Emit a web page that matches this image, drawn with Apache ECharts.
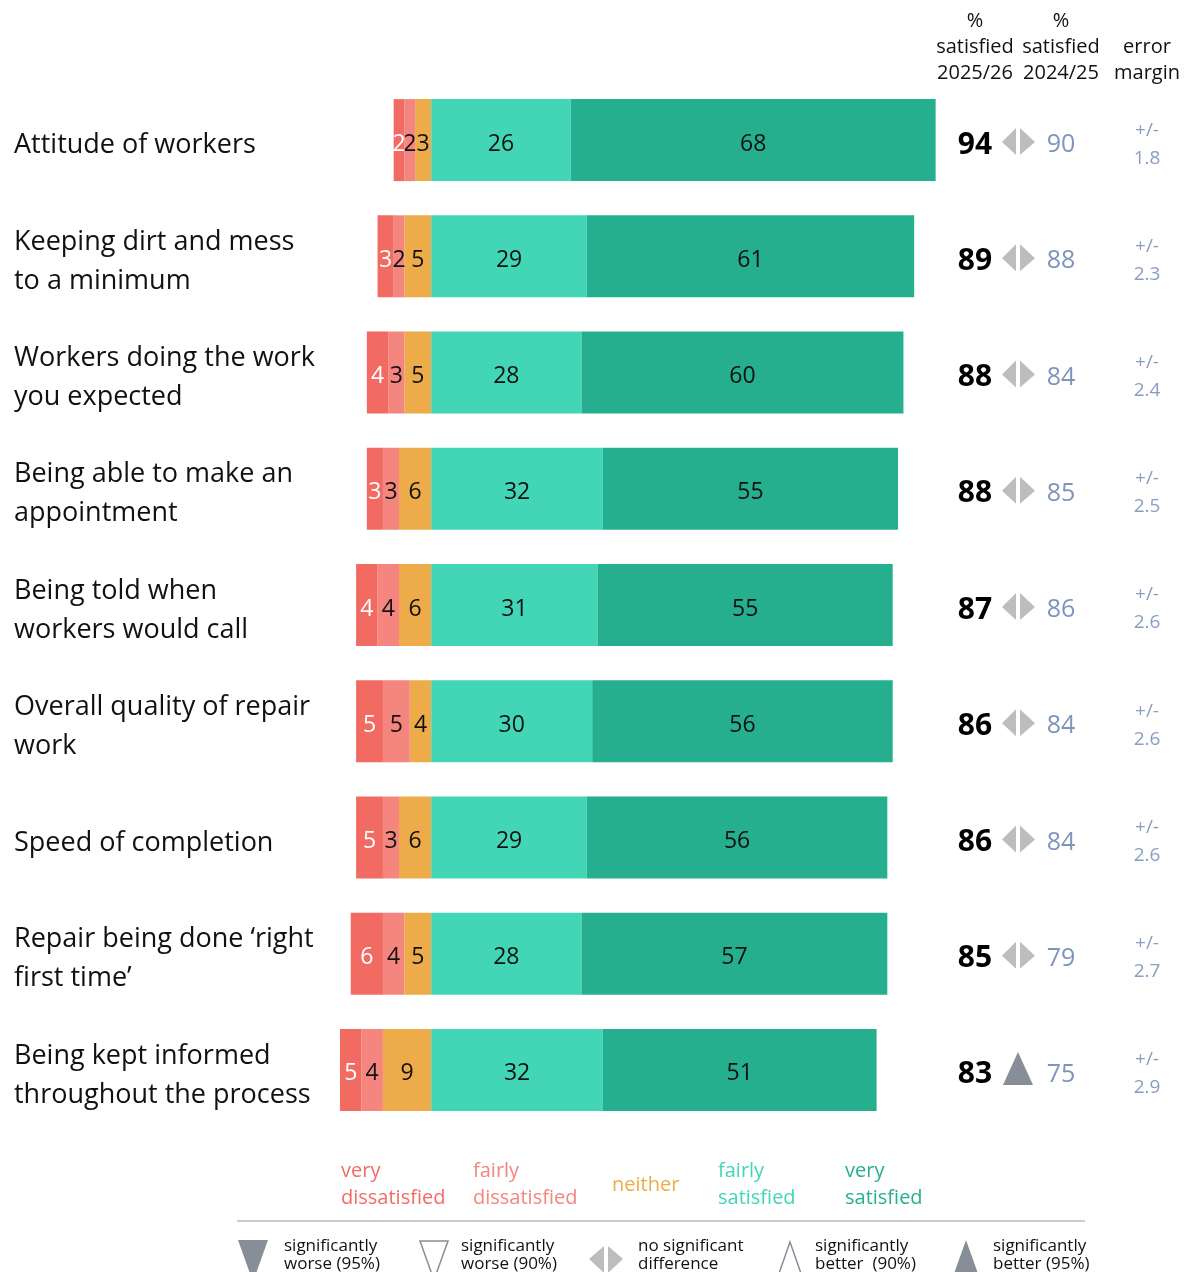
<!DOCTYPE html>
<html>
<head>
<meta charset="utf-8">
<script src="https://cdn.jsdelivr.net/npm/echarts@6/dist/echarts.min.js"></script>
<style>
html,body{margin:0;padding:0;background:#fff;}
#chart{width:1188px;height:1272px;}
</style>
</head>
<body>
<div id="chart"></div>
<script>
const categories = [
  'Attitude of workers',
  'Keeping dirt and mess\nto a minimum',
  'Workers doing the work\nyou expected',
  'Being able to make an\nappointment',
  'Being told when\nworkers would call',
  'Overall quality of repair\nwork',
  'Speed of completion',
  'Repair being done \u2018right\nfirst time\u2019',
  'Being kept informed\nthroughout the process'
];
const veryDissatisfied   = [2, 3, 4, 3, 4, 5, 5, 6, 5];
const fairlyDissatisfied = [2, 2, 3, 3, 4, 5, 3, 4, 4];
const neither            = [3, 5, 5, 6, 6, 4, 6, 5, 9];
const fairlySatisfied    = [26, 29, 28, 32, 31, 30, 29, 28, 32];
const verySatisfied      = [68, 61, 60, 55, 55, 56, 56, 57, 51];
const satisfied2526      = [94, 89, 88, 88, 87, 86, 86, 85, 83];
const satisfied2425      = [90, 88, 84, 85, 86, 84, 84, 79, 75];
const errorMargin        = ['1.8', '2.3', '2.4', '2.5', '2.6', '2.6', '2.6', '2.7', '2.9'];
const significance       = ['same', 'same', 'same', 'same', 'same', 'same', 'same', 'same', 'better95'];

const FONT = '"Open Sans", "Noto Sans", sans-serif';
const C = {
  vd: '#F26B63', fd: '#F4857F', ne: '#EDAB4A', fs: '#43D6B6', vs: '#26AF8E'
};
const ICON_GREY = '#BDBDBD';
const SIG_GREY = '#878E97';

const chart = echarts.init(document.getElementById('chart'), null, {renderer: 'canvas'});

function barSeries(name, values, color, negative, labelColor) {
  return {
    name: name,
    type: 'bar',
    stack: 'total',
    barWidth: 82,
    data: values.map(v => negative ? -v : v),
    itemStyle: {color: color},
    label: {
      show: true,
      position: 'inside',
      offset: [0, 4],
      color: labelColor,
      fontSize: 23,
      fontFamily: FONT,
      formatter: p => String(Math.abs(p.value))
    },
    emphasis: {disabled: true}
  };
}

const colX = {cur: 975, icon: 1018, prev: 1061, err: 1147};

const option = {
  animation: false,
  backgroundColor: '#fff',
  grid: {left: 340, top: 82, width: 601, height: 1046, containLabel: false},
  xAxis: {type: 'value', min: -17, max: 95, show: false},
  yAxis: {
    type: 'category',
    data: categories,
    inverse: true,
    axisLine: {show: false},
    axisTick: {show: false},
    splitLine: {show: false},
    axisLabel: {
      margin: 326,
      align: 'left',
      fontSize: 27,
      lineHeight: 39,
      color: '#111',
      fontFamily: FONT,
      formatter: v => '{s|}\n' + v,
      rich: {s: {lineHeight: 11, fontSize: 1}}
    }
  },
  series: [
    barSeries('neither', neither, C.ne, true, '#111'),
    barSeries('fairly dissatisfied', fairlyDissatisfied, C.fd, true, '#111'),
    barSeries('very dissatisfied', veryDissatisfied, C.vd, true, '#fff'),
    barSeries('fairly satisfied', fairlySatisfied, C.fs, false, '#111'),
    barSeries('very satisfied', verySatisfied, C.vs, false, '#111'),
    {
      type: 'custom',
      coordinateSystem: 'cartesian2d',
      data: categories.map((c, i) => [0, i]),
      encode: {x: 0, y: 1},
      clip: false,
      silent: true,
      renderItem: function (params, api) {
        const i = api.value(1);
        const y = api.coord([0, i])[1];
        const children = [
          {type: 'text', style: {text: String(satisfied2526[i]), x: colX.cur, y: y + 5, align: 'center', verticalAlign: 'middle', font: 'bold 30px ' + FONT, fill: '#000'}},
          {type: 'text', style: {text: String(satisfied2425[i]), x: colX.prev, y: y + 5, align: 'center', verticalAlign: 'middle', font: '25px ' + FONT, fill: '#7D95BC'}},
          {type: 'text', style: {text: '+/-', x: colX.err, y: y - 10, align: 'center', verticalAlign: 'middle', font: '19px ' + FONT, fill: '#889DC2'}},
          {type: 'text', style: {text: errorMargin[i], x: colX.err, y: y + 18, align: 'center', verticalAlign: 'middle', font: '19px ' + FONT, fill: '#889DC2'}}
        ];
        const s = significance[i];
        const cx = colX.icon;
        if (s === 'same') {
          children.push({type: 'polygon', shape: {points: [[cx - 16, y + 2], [cx - 2, y - 12], [cx - 2, y + 15]]}, style: {fill: ICON_GREY}});
          children.push({type: 'polygon', shape: {points: [[cx + 2, y - 12], [cx + 2, y + 15], [cx + 17, y + 2]]}, style: {fill: ICON_GREY}});
        } else if (s === 'better95') {
          children.push({type: 'polygon', shape: {points: [[cx - 15, y + 15], [cx + 15, y + 15], [cx, y - 18]]}, style: {fill: SIG_GREY}});
        } else if (s === 'worse95') {
          children.push({type: 'polygon', shape: {points: [[cx - 15, y - 15], [cx + 15, y - 15], [cx, y + 18]]}, style: {fill: SIG_GREY}});
        }
        return {type: 'group', children: children};
      }
    }
  ],
  graphic: [
    // column headers
    {type: 'text', x: 975, y: 8, style: {text: '%\nsatisfied\n2025/26', align: 'center', font: '20px ' + FONT, lineHeight: 26, fill: '#111'}},
    {type: 'text', x: 1061, y: 8, style: {text: '%\nsatisfied\n2024/25', align: 'center', font: '20px ' + FONT, lineHeight: 26, fill: '#111'}},
    {type: 'text', x: 1147, y: 34, style: {text: 'error\nmargin', align: 'center', font: '20px ' + FONT, lineHeight: 26, fill: '#111'}},
    // colour legend
    {type: 'text', x: 341, y: 1158, style: {text: 'very\ndissatisfied', font: '20px ' + FONT, lineHeight: 27, fill: C.vd}},
    {type: 'text', x: 473, y: 1158, style: {text: 'fairly\ndissatisfied', font: '20px ' + FONT, lineHeight: 27, fill: C.fd}},
    {type: 'text', x: 612, y: 1172, style: {text: 'neither', font: '20px ' + FONT, lineHeight: 27, fill: C.ne}},
    {type: 'text', x: 718, y: 1158, style: {text: 'fairly\nsatisfied', font: '20px ' + FONT, lineHeight: 27, fill: C.fs}},
    {type: 'text', x: 845, y: 1158, style: {text: 'very\nsatisfied', font: '20px ' + FONT, lineHeight: 27, fill: C.vs}},
    {type: 'line', shape: {x1: 237, y1: 1221, x2: 1085, y2: 1221}, style: {stroke: '#BBBBBB', lineWidth: 1.5}},
    // significance legend
    {type: 'polygon', shape: {points: [[238, 1240], [268, 1240], [253, 1282]]}, style: {fill: SIG_GREY}},
    {type: 'text', x: 284, y: 1237, style: {text: 'significantly\nworse (95%)', font: '17px ' + FONT, lineHeight: 18, fill: '#111'}},
    {type: 'polygon', shape: {points: [[420, 1241], [448, 1241], [434, 1280]]}, style: {fill: 'none', stroke: SIG_GREY, lineWidth: 1.5}},
    {type: 'text', x: 461, y: 1237, style: {text: 'significantly\nworse (90%)', font: '17px ' + FONT, lineHeight: 18, fill: '#111'}},
    {type: 'polygon', shape: {points: [[589, 1259], [604, 1246], [604, 1273]]}, style: {fill: ICON_GREY}},
    {type: 'polygon', shape: {points: [[608, 1246], [608, 1273], [623, 1259]]}, style: {fill: ICON_GREY}},
    {type: 'text', x: 638, y: 1237, style: {text: 'no significant\ndifference', font: '17px ' + FONT, lineHeight: 18, fill: '#111'}},
    {type: 'polygon', shape: {points: [[776, 1282], [804, 1282], [790, 1242]]}, style: {fill: 'none', stroke: SIG_GREY, lineWidth: 1.5}},
    {type: 'text', x: 815, y: 1237, style: {text: 'significantly\nbetter  (90%)', font: '17px ' + FONT, lineHeight: 18, fill: '#111'}},
    {type: 'polygon', shape: {points: [[951, 1282], [981, 1282], [966, 1240]]}, style: {fill: SIG_GREY}},
    {type: 'text', x: 993, y: 1237, style: {text: 'significantly\nbetter (95%)', font: '17px ' + FONT, lineHeight: 18, fill: '#111'}}
  ]
};
chart.setOption(option);
</script>
</body>
</html>
